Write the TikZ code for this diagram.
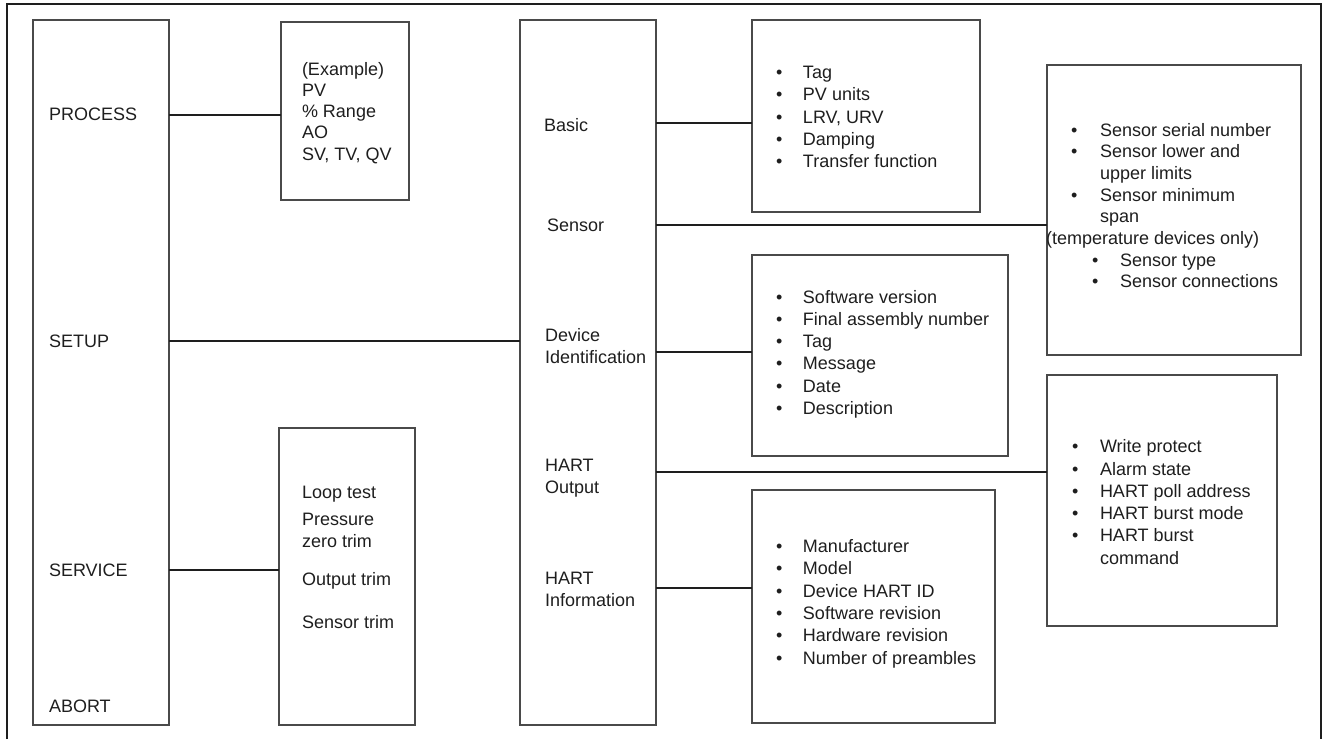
\documentclass[tikz,border=0pt]{standalone}
\usepackage{fontspec}
\setmainfont{Liberation Sans}
\definecolor{ink}{HTML}{1E1E1E}
\definecolor{edge}{HTML}{4A4A4A}
\newcommand\bl[2][27pt]{\makebox[#1][l]{\textbullet}#2}
\newcommand\tlines[2]{\parbox[t]{420pt}{\fontsize{18}{#1}\selectfont #2}}
\begin{document}
\begin{tikzpicture}[x=1pt,y=-1pt,
  box/.style={draw=edge, line width=1.4pt, inner sep=0pt, outer sep=0pt, anchor=north west},
  txt/.style={inner sep=0pt, outer sep=0pt, anchor=base west, text=ink, font=\fontsize{18}{22}\selectfont},
  link/.style={draw=ink, line width=2pt},
  frameline/.style={draw=ink, line width=2pt}]
\useasboundingbox (0,0) rectangle (1325,739);
% outer frame
\draw[frameline] (7,739) -- (7,4) -- (1321,4) -- (1321,739);
% boxes
\node[box, minimum width=136pt, minimum height=705pt] (b1) at (33,20) {};
\node[box, minimum width=128pt, minimum height=178pt] (b2) at (281,22) {};
\node[box, minimum width=136pt, minimum height=297pt] (b3) at (279,428) {};
\node[box, minimum width=136pt, minimum height=705pt] (b4) at (520,20) {};
\node[box, minimum width=228pt, minimum height=192pt] (b5) at (752,20) {};
\node[box, minimum width=254pt, minimum height=290pt] (b6) at (1047,65) {};
\node[box, minimum width=256pt, minimum height=201pt] (b7) at (752,255) {};
\node[box, minimum width=243pt, minimum height=233pt] (b8) at (752,490) {};
\node[box, minimum width=230pt, minimum height=251pt] (b9) at (1047,375) {};
% left column
\node[txt] (process) at (49,120) {PROCESS};
\node[txt] (setup) at (49,347) {SETUP};
\node[txt] (service) at (49,576) {SERVICE};
\node[txt] (abort) at (49,712) {ABORT};
% process list
\node[txt] (proclist) at (302,75) {\tlines{21.3pt}{(Example)\\PV\\\% Range\\AO\\SV, TV, QV}};
% service list
\node[txt] (loop) at (302,498) {Loop test};
\node[txt] (pzero) at (302,525) {\tlines{22pt}{Pressure\\zero trim}};
\node[txt] (otrim) at (302,585) {Output trim};
\node[txt] (strim) at (302,628) {Sensor trim};
% setup column
\node[txt] (basic) at (544,131) {Basic};
\node[txt] (sensor) at (547,231) {Sensor};
\node[txt] (devid) at (545,341) {\tlines{22.7pt}{Device\\Identification}};
\node[txt] (hout) at (545,471) {\tlines{22pt}{HART\\Output}};
\node[txt] (hinfo) at (545,584) {\tlines{22.5pt}{HART\\Information}};
% detail lists
\node[txt] (basiclist) at (776,78.3) {\tlines{22.35pt}{\bl{Tag}\\\bl{PV units}\\\bl{LRV, URV}\\\bl{Damping}\\\bl{Transfer function}}};
\node[txt] (sensorlist) at (1071,136) {\tlines{21.67pt}{\bl[29pt]{Sensor serial number}\\\bl[29pt]{Sensor lower and}\\\hspace*{29pt}upper limits\\\bl[29pt]{Sensor minimum}\\\hspace*{29pt}span\\\hspace*{-25pt}(temperature devices only)\\\hspace*{21pt}\bl[28pt]{Sensor type}\\\hspace*{21pt}\bl[28pt]{Sensor connections}}};
\node[txt] (devlist) at (776,303.3) {\tlines{22.2pt}{\bl{Software version}\\\bl{Final assembly number}\\\bl{Tag}\\\bl{Message}\\\bl{Date}\\\bl{Description}}};
\node[txt] (infolist) at (776,552.3) {\tlines{22.35pt}{\bl{Manufacturer}\\\bl{Model}\\\bl{Device HART ID}\\\bl{Software revision}\\\bl{Hardware revision}\\\bl{Number of preambles}}};
\node[txt] (outlist) at (1072,452.7) {\tlines{22.3pt}{\bl[28pt]{Write protect}\\\bl[28pt]{Alarm state}\\\bl[28pt]{HART poll address}\\\bl[28pt]{HART burst mode}\\\bl[28pt]{HART burst}\\\hspace*{28pt}command}};
% connectors
\draw[link] (b1.east |- 0,115) -- (b2.west |- 0,115);
\draw[link] (b1.east |- 0,341) -- (b4.west |- 0,341);
\draw[link] (b1.east |- 0,570) -- (b3.west |- 0,570);
\draw[link] (b4.east |- 0,123) -- (b5.west |- 0,123);
\draw[link] (b4.east |- 0,225) -- (b6.west |- 0,225);
\draw[link] (b4.east |- 0,352) -- (b7.west |- 0,352);
\draw[link] (b4.east |- 0,472) -- (b9.west |- 0,472);
\draw[link] (b4.east |- 0,588) -- (b8.west |- 0,588);
\end{tikzpicture}
\end{document}
